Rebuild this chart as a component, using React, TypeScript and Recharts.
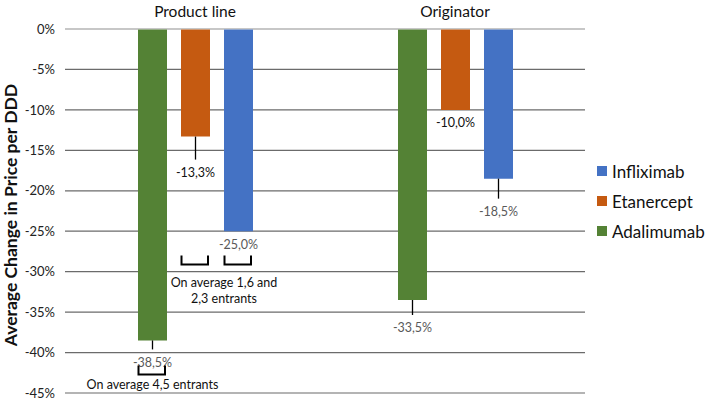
import { BarChart, Bar, XAxis, YAxis, CartesianGrid, ReferenceLine, LabelList, Label } from 'recharts'

const categories = ['Product line', 'Originator']
const adalimumab = [-38.5, -33.5]
const etanercept = [-13.3, -10.0]
const infliximab = [-25.0, -18.5]
const yTicks = [0, -5, -10, -15, -20, -25, -30, -35, -40, -45]

const series = [
  { key: 'adalimumab', name: 'Adalimumab', color: '#548235', values: adalimumab },
  { key: 'etanercept', name: 'Etanercept', color: '#c55a11', values: etanercept },
  { key: 'infliximab', name: 'Infliximab', color: '#4472c4', values: infliximab },
]

const rows = categories.map((category, i) => ({
  category,
  adalimumab: adalimumab[i],
  etanercept: etanercept[i],
  infliximab: infliximab[i],
}))

// leader line under each bar (px), per category
const leader: Record<string, number[]> = { adalimumab: [9, 15], etanercept: [23, 0], infliximab: [0, 20] }
const labelInk: Record<string, string[]> = {
  adalimumab: ['#595959', '#595959'],
  etanercept: ['#111', '#111'],
  infliximab: ['#595959', '#595959'],
}

// brackets + notes, levels in axis units
const notes = [
  { key: 'adalimumab', index: 0, bracket: -41.6, textAt: -43.9, lines: ['On average 4,5 entrants'], mid: true },
  { key: 'etanercept', index: 0, bracket: -28, textAt: 0, lines: [] as string[], mid: true },
  { key: 'infliximab', index: 0, bracket: -28, textAt: -31.3, lines: ['On average 1,6 and', '2,3 entrants'], mid: false },
]

const font = 'Lato, "Open Sans", sans-serif'
const pct = (v: number) => `${v.toFixed(1).replace('.', ',')}%`

function makeLabel(key: string) {
  return (props: any) => {
    const vb = props.viewBox ?? {}
    const x = Number(vb.x ?? props.x)
    const y = Number(vb.y ?? props.y)
    const w = Number(vb.width ?? props.width)
    const h = Number(vb.height ?? props.height)
    const value = Number(props.value)
    const index = Number(props.index)
    const top = Math.min(y, y + h)
    const bottom = Math.max(y, y + h)
    const ppu = Math.abs(h) / Math.abs(value)
    const at = (v: number) => top + Math.abs(v) * ppu
    const cx = x + w / 2
    const lead = leader[key][index]
    const note = notes.find((n) => n.key === key && n.index === index)
    return (
      <g>
        {lead > 0 && <line x1={cx} x2={cx} y1={bottom} y2={bottom + lead} stroke="#000" strokeWidth={1.3} />}
        <text
          x={cx}
          y={bottom + lead + 13}
          textAnchor="middle"
          dominantBaseline="central"
          fontSize={12.5}
          fontFamily={font}
          fill={labelInk[key][index]}
        >
          {pct(value)}
        </text>
        {note && (
          <g>
            <path
              d={`M${x + 0.5},${at(note.bracket)} V${at(note.bracket) + 9} H${x + w - 2} V${at(note.bracket)}`}
              fill="none"
              stroke="#000"
              strokeWidth={2}
            />
            {note.lines.map((line, i) => (
              <text
                key={i}
                x={note.mid ? cx : x}
                y={at(note.textAt) + i * 16}
                textAnchor="middle"
                dominantBaseline="central"
                fontSize={12.5}
                fontFamily={font}
                fill="#111"
              >
                {line}
              </text>
            ))}
          </g>
        )}
      </g>
    )
  }
}

export default function App() {
  return (
    <div style={{ position: 'absolute', left: 0, top: 0, width: 706, height: 400, background: '#fff', fontFamily: font }}>
      <BarChart
        width={706}
        height={400}
        data={rows}
        margin={{ top: 0, right: 121, bottom: 7, left: 0 }}
        barSize={29}
        barGap={14}
      >
        <CartesianGrid vertical={false} stroke="#6b6b6b" strokeWidth={1.2} />
        <XAxis
          dataKey="category"
          orientation="top"
          height={29}
          axisLine={false}
          tickLine={false}
          tick={(p: any) => (
            <text x={p.x} y={17} textAnchor="middle" fontSize={15.5} fontFamily={font} fill="#111">
              {p.payload.value}
            </text>
          )}
        />
        <YAxis
          width={65}
          domain={[-45, 0]}
          ticks={yTicks}
          interval={0}
          axisLine={false}
          tickLine={false}
          tickMargin={4}
          tickFormatter={(v: number) => `${v}%`}
          tick={{ fontSize: 13, fontFamily: font, fill: '#222' }}
        >
          <Label
            content={(p: any) => {
              const vb = p.viewBox ?? { x: 0, y: 29, width: 65, height: 364 }
              const cy = vb.y + vb.height / 2 + 4
              return (
                <text
                  x={10}
                  y={cy}
                  transform={`rotate(-90 10 ${cy})`}
                  textAnchor="middle"
                  dominantBaseline="central"
                  fontSize={17.5}
                  fontWeight="bold"
                  fontFamily={font}
                  fill="#111"
                >
                  Average Change in Price per DDD
                </text>
              )
            }}
          />
        </YAxis>
        <ReferenceLine y={0} stroke="#d9d9d9" strokeWidth={1.2} />
        {series.map((s) => (
          <Bar key={s.key} dataKey={s.key} name={s.name} fill={s.color} isAnimationActive={false}>
            <LabelList dataKey={s.key} content={makeLabel(s.key)} />
          </Bar>
        ))}
      </BarChart>
      <div style={{ position: 'absolute', left: 597, top: 156 }}>
        {[...series].reverse().map((s) => (
          <div key={s.key} style={{ display: 'flex', alignItems: 'center', height: 30 }}>
            <span style={{ width: 10, height: 10, background: s.color, marginRight: 5 }} />
            <span style={{ fontSize: 17, color: '#111', fontFamily: font }}>{s.name}</span>
          </div>
        ))}
      </div>
    </div>
  )
}
